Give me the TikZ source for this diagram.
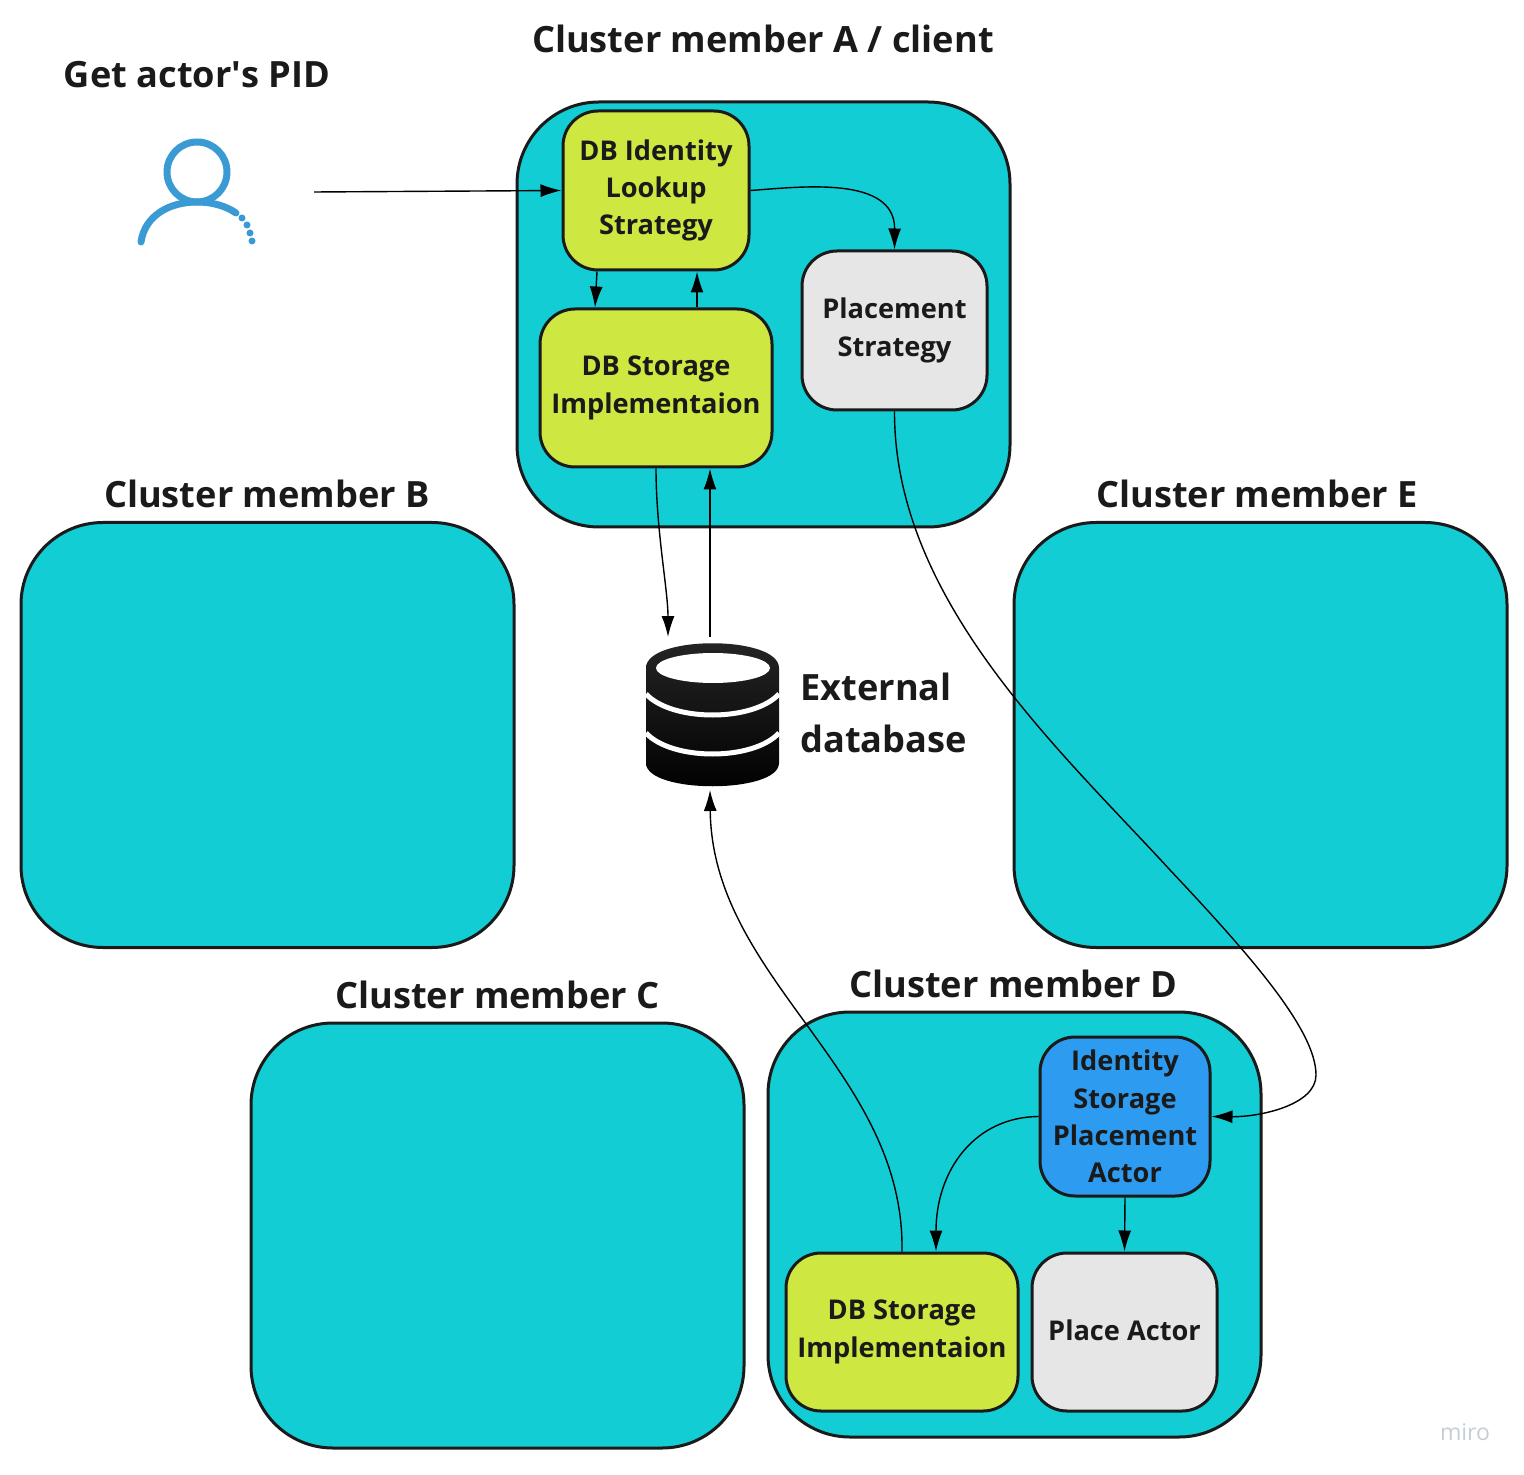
\documentclass[tikz,border=0pt]{standalone}
\usepackage{fontspec}
\setmainfont{Open Sans}
\usetikzlibrary{arrows.meta}
\definecolor{myTeal}{RGB}{19,205,212}
\definecolor{myLime}{RGB}{206,231,65}
\definecolor{myLightGray}{RGB}{230,230,230}
\definecolor{myBlue}{RGB}{45,155,240}
\definecolor{myIcon}{RGB}{58,154,211}
\definecolor{myInk}{RGB}{26,26,26}
\definecolor{myDbTop}{RGB}{38,38,38}
\definecolor{myMiro}{RGB}{196,206,214}

\begin{document}
\begin{tikzpicture}[%
    x=.5pt,y=-.5pt,
    line join=round,
    clusterbox/.style={
        draw=myInk,line width=1.5pt,fill=myTeal,
        rounded corners=41pt,
        minimum width=246.5pt,minimum height=212.5pt,
    },
    innerbox/.style={
        draw=myInk,line width=1.5pt,
        rounded corners=17.5pt,
        align=center,text=myInk,
        inner sep=0pt,
        font=\fontsize{13.6}{18.7}\selectfont\bfseries,
    },
    titlelabel/.style={
        text=myInk,inner sep=0pt,
        font=\fontsize{18.1}{26}\selectfont\bfseries,
    },
    link/.style={
        draw=black,line width=.7pt,
        -{Latex[length=10.5pt,width=6.5pt]},
    },
]
\useasboundingbox (0,0) rectangle (1524,1475);

% cluster members
\node[clusterbox] (memberA) at (763.5,314.5) {};
\node[clusterbox] (memberB) at (267.5,735) {};
\node[clusterbox] (memberE) at (1260.5,735) {};
\node[clusterbox] (memberC) at (497.5,1235.5) {};
\node[clusterbox] (memberD) at (1014.5,1224.5) {};

% boxes inside member A
\node[innerbox,fill=myLime,minimum width=93pt,minimum height=79.5pt] (lookupBox) at (656,190.5)
    {DB Identity\\Lookup\\Strategy};
\node[innerbox,fill=myLime,minimum width=116pt,minimum height=79pt] (storageBoxA) at (656,388)
    {\raisebox{-.5pt}{DB Storage}\\\raisebox{-.5pt}{Implementaion}};
\node[innerbox,fill=myLightGray,minimum width=92.5pt,minimum height=79.5pt] (placementBox) at (894.5,330.5)
    {Placement\\Strategy};

% boxes inside member D
\node[innerbox,fill=myBlue,minimum width=85pt,minimum height=79.5pt] (identityBox) at (1125,1116.5)
    {Identity\\Storage\\Placement\\Actor};
\node[innerbox,fill=myLime,minimum width=116pt,minimum height=79pt] (storageBoxD) at (902,1332)
    {\raisebox{-.5pt}{DB Storage}\\\raisebox{-.5pt}{Implementaion}};
\node[innerbox,fill=myLightGray,minimum width=92.5pt,minimum height=79pt] (placeBox) at (1124.5,1332)
    {\raisebox{2pt}{Place Actor}};

% database icon
\node[inner sep=0pt,outer sep=0pt,minimum width=67pt,minimum height=76.5pt] (database) at (713,713.5) {};
\shade[top color=myDbTop,bottom color=black]
    (646,668) .. controls (646,635) and (779,635) .. (779,668) -- (779,763)
    .. controls (779,794) and (646,794) .. (646,763) -- cycle;
\fill[white] (713,668) ellipse [x radius=57,y radius=15];
\foreach \y in {694,733}{
    \draw[white,line width=2.5pt] (646,\y) .. controls (672,\y+28) and (753,\y+28) .. (779,\y);
}

% user icon
\draw[myIcon,line width=3.5pt] (197,172) circle [radius=30];
\draw[myIcon,line width=3.5pt,line cap=round] (141,242)
    .. controls (145,215) and (170,202) .. (197,202)
    .. controls (212,202) and (226,206) .. (236,213);
\foreach \x/\y in {242/218,247/225,250/233,252/241}{
    \fill[myIcon] (\x,\y) circle [radius=3.5];
}
\coordinate (userEnd) at (314,192);

% labels
\node[titlelabel] (titleA) at (763,39) {Cluster member A / client};
\node[titlelabel] (titleUser) at (197,75) {Get actor\textquotesingle s PID};
\node[titlelabel] (titleB) at (267,494) {Cluster member B};
\node[titlelabel] (titleE) at (1257,494) {Cluster member E};
\node[titlelabel] (titleC) at (497.5,995) {Cluster member C};
\node[titlelabel] (titleD) at (1013.5,984) {Cluster member D};
\node[titlelabel,anchor=west,align=left] (titleDb) at (800,713) {External\\database};
\node[text=myMiro,inner sep=0pt,font=\fontsize{11.5}{12}\selectfont] (miroMark) at (1465,1432) {miro};

% connectors
\draw[link] (userEnd) -- (lookupBox.west);
\draw[link] (lookupBox.east) .. controls (800,187) and (895,175) .. (placementBox.north);
\draw[link] ([xshift=-29.5pt]lookupBox.south) -- ([xshift=-30.5pt]storageBoxA.north);
\draw[link] ([xshift=20.5pt]storageBoxA.north) -- ([xshift=20.5pt]lookupBox.south);
\draw[link] (storageBoxA.south) .. controls (656,530) and (668,590) .. ([xshift=-22.5pt]database.north);
\draw[link] ([xshift=-1.5pt]database.north) -- ([xshift=27pt]storageBoxA.south);
\draw[link] (storageBoxD.north) .. controls (905,1070) and (712,980) .. ([xshift=-1.5pt]database.south);
\draw[link] (placementBox.south) .. controls (894,600) and (1060,750) .. (1170,870)
    .. controls (1250,955) and (1316,1030) .. (1316,1075)
    .. controls (1316,1105) and (1260,1117) .. (identityBox.east);
\draw[link] (identityBox.west) .. controls (975,1117) and (936,1170) .. ([xshift=17pt]storageBoxD.north);
\draw[link] (identityBox.south) -- (placeBox.north);
\end{tikzpicture}
\end{document}
